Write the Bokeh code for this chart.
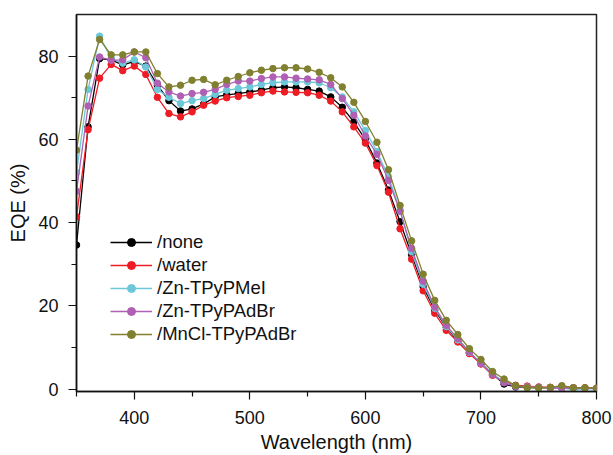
from bokeh.plotting import figure
from bokeh.models import Range1d, Legend, LegendItem, FixedTicker
from bokeh.embed import file_html
from bokeh.resources import INLINE

wavelength = list(range(350, 801, 10))

none = [34.6, 63.0, 79.4, 79.1, 77.9, 78.7, 77.6, 73.0, 69.3, 66.8, 67.3, 68.5, 70.2, 70.7, 71.0, 71.4,
        71.8, 72.4, 72.6, 72.4, 72.0, 71.6, 70.2, 67.7, 64.2, 59.9, 54.3, 47.8, 40.2, 32.3, 24.6, 19.0,
        14.8, 11.6, 8.7, 6.2, 3.6, 1.2, 0.5, 0.4, 0.3, 0.3, 0.3, 0.2, 0.2, 0.1]
water = [41.4, 62.3, 74.7, 78.0, 76.5, 77.6, 75.6, 70.1, 66.2, 65.4, 66.6, 68.2, 69.2, 70.0, 70.3, 70.6,
         71.2, 71.6, 71.4, 71.3, 71.2, 70.6, 69.2, 66.6, 63.0, 59.1, 53.7, 47.3, 38.5, 31.2, 23.6, 18.2,
         14.1, 11.3, 8.5, 6.0, 3.3, 1.8, 0.9, 0.7, 0.5, 0.4, 0.6, 0.3, 0.3, 0.2]
zn_mei = [52.0, 72.0, 84.8, 79.4, 78.3, 79.1, 77.4, 72.0, 70.1, 68.6, 69.3, 69.8, 70.8, 71.8, 72.2, 72.6,
          73.2, 73.6, 73.8, 73.8, 73.8, 73.6, 72.4, 70.2, 66.6, 62.1, 57.1, 51.0, 43.0, 33.0, 25.2, 19.4,
          15.0, 11.8, 8.8, 6.3, 3.7, 1.6, 0.7, 0.5, 0.3, 0.2, 0.3, -0.2, 0.1, 0.0]
zn_adbr = [47.5, 68.0, 79.8, 79.0, 79.1, 81.0, 79.6, 73.5, 71.4, 70.4, 71.0, 71.3, 72.0, 73.2, 74.0, 74.0,
           74.6, 75.0, 75.0, 74.7, 74.5, 74.3, 73.2, 69.8, 65.8, 60.8, 56.4, 50.1, 42.7, 33.8, 25.9, 19.7,
           15.3, 12.1, 8.9, 6.1, 3.5, 1.5, 0.6, 0.5, 0.4, 0.2, 0.2, 0.3, 0.2, 0.1]
mncl_adbr = [57.4, 75.2, 84.0, 80.3, 80.3, 81.0, 81.0, 75.8, 72.6, 73.0, 74.2, 74.4, 73.1, 74.2, 75.1, 76.0,
             76.6, 77.0, 77.2, 77.2, 76.9, 76.1, 74.8, 72.6, 68.9, 64.3, 59.3, 52.7, 44.1, 35.6, 27.6, 21.3,
             16.5, 13.1, 9.7, 7.1, 4.2, 2.4, 0.8, 0.3, 0.3, 0.4, 0.8, 0.3, 0.3, 0.2]

labels = ["/none", "/water", "/Zn-TPyPMeI", "/Zn-TPyPAdBr", "/MnCl-TPyPAdBr"]
colors = ["#000000", "#ee1c24", "#6cc8d8", "#b060b4", "#808030"]
series = [none, water, zn_mei, zn_adbr, mncl_adbr]

x_ticks = [400, 500, 600, 700, 800]
y_ticks = [0, 20, 40, 60, 80]

FONT = "Liberation Sans"

p = figure(width=613, height=455, output_backend="svg", toolbar_location=None,
           x_range=Range1d(350, 800), y_range=Range1d(-0.6, 90),
           min_border_left=76, min_border_right=17, min_border_top=14, min_border_bottom=62)
p.grid.visible = False
p.outline_line_color = "#222222"
p.outline_line_width = 1.5
p.background_fill_color = "white"

items = []
for lab, col, ys in zip(labels, colors, series):
    r1 = p.line(wavelength, ys, line_color=col, line_width=1.3)
    r2 = p.scatter(wavelength, ys, size=6.5, fill_color=col, line_color=col)
    items.append(LegendItem(label=lab, renderers=[r1, r2]))

legend = Legend(items=items, location=(34, 46), padding=0, margin=0, spacing=1,
                label_height=20, glyph_height=20, glyph_width=42, label_standoff=5,
                border_line_color=None, background_fill_alpha=0,
                label_text_font=FONT, label_text_font_size="18.5px", label_text_color="#111111")
p.add_layout(legend, "center")

for ax in (p.xaxis[0], p.yaxis[0]):
    ax.major_label_text_font = FONT
    ax.major_label_text_font_size = "18px"
    ax.major_label_text_color = "#111111"
    ax.axis_label_text_font = FONT
    ax.axis_label_text_font_size = "20px"
    ax.axis_label_text_color = "#111111"
    ax.axis_label_text_font_style = "normal"
    ax.axis_line_color = "#111111"
    ax.major_tick_line_color = "#111111"
    ax.minor_tick_line_color = "#111111"
    ax.major_tick_out = 8
    ax.major_tick_in = 0
    ax.minor_tick_out = 5
    ax.minor_tick_in = 0
    ax.axis_line_width = 1.5
    ax.major_tick_line_width = 1.2
    ax.minor_tick_line_width = 1.2

p.xaxis.ticker = FixedTicker(ticks=x_ticks, minor_ticks=[350, 450, 550, 650, 750])
p.yaxis.ticker = FixedTicker(ticks=y_ticks, minor_ticks=[10, 30, 50, 70])
p.xaxis.axis_label = "Wavelength (nm)"
p.yaxis.axis_label = "EQE (%)"
p.xaxis.major_label_standoff = 11
p.yaxis.major_label_standoff = 10
p.xaxis.axis_label_standoff = 4
p.yaxis.axis_label_standoff = 6

open("out.html", "w").write(file_html(p, INLINE))
